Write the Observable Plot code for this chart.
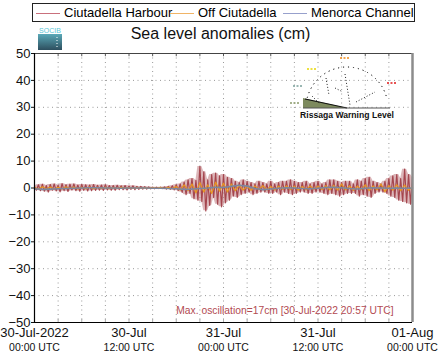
<!DOCTYPE html>
<html><head><meta charset="utf-8">
<script src="https://cdn.jsdelivr.net/npm/d3@7"></script>
<script src="https://cdn.jsdelivr.net/npm/@observablehq/plot@0.6"></script>
<style>
body{margin:0;background:#fff;font-family:"Liberation Sans",Arial,Helvetica,sans-serif;}
#wrap{position:relative;width:441px;height:359px;overflow:hidden;}
#chart{position:absolute;left:0;top:0;}
#legend{position:absolute;left:32px;top:3px;width:381px;height:17px;border:1px solid #222;background:#fff;font-size:13px;line-height:17px;white-space:nowrap;}
#legend span.item{position:absolute;top:0;}
#legend span.sw{display:inline-block;width:24px;height:1px;vertical-align:middle;margin-right:4px;}
#title{position:absolute;left:0;width:441px;text-align:center;top:25px;font-size:16px;color:#111;}
#overlay{position:absolute;left:0;top:0;}
</style></head>
<body><div id="wrap"><div id="chart"></div><div id="legend"></div><div id="title">Sea level anomalies (cm)</div><svg id="overlay" width="441" height="359"></svg></div>
<script>
const seriesNames = ["Ciutadella Harbour", "Off Ciutadella", "Menorca Channel"];
const seriesColors = ["#9e3a42", "#e8961e", "#7c879e"];
const legendColors = ["#c9707c", "#f0b466", "#97a0cc"];
const startTime = "2022-07-30T00:00:00Z";
const endTime = "2022-08-01T00:00:00Z";
const yTicks = [-50,-40,-30,-20,-10,0,10,20,30,40,50];
const xLabelHours = [0,12,24,36,48];
const xLabelTop = ["30-Jul-2022","30-Jul","31-Jul","31-Jul","01-Aug"];
const xLabelBottom = ["00:00 UTC","12:00 UTC","00:00 UTC","12:00 UTC","00:00 UTC"];
const maxText = "Max. oscillation=17cm [30-Jul-2022 20:57 UTC]";
const warningLabel = "Rissaga Warning Level";

// Ciutadella Harbour, every 15 minutes (cm)
const harbour = [
 0.5,-0.8,1.2,-1.0, 1.4,-1.2,0.9,-1.5, 1.3,-0.9,1.5,-1.1, 1.0,-1.4,1.6,-1.0,
 1.2,-1.3,1.4,-0.8, 1.5,-1.0,1.1,-1.2, 1.3,-0.9,1.2,-1.1, 1.1,-1.0,1.3,-0.9,
 1.0,-0.8,1.1,-0.9, 1.2,-0.7,0.9,-0.8, 0.9,-0.8,1.0,-0.6, 0.8,-0.6,0.9,-0.7,
 0.7,-0.5,0.8,-0.6, 0.6,-0.5,0.6,-0.4, 0.5,-0.4,0.4,-0.3, 0.3,-0.3,0.3,-0.2,
 0.3,-0.2,0.4,-0.4, 0.6,-0.5,0.8,-0.7, 1.2,-1.0,1.5,-1.6, 2.2,-2.5,3.0,-2.0,
 3.5,-4.0,2.8,-4.5, 8.0,-5.0,6.0,-8.5, 3.0,-6.5,5.0,-3.5, 5.5,-6.0,4.5,-7.0,
 5.0,-5.5,4.0,-4.5, 3.5,-3.0,2.5,-3.5, 2.0,-2.5,3.0,-2.0, 2.5,-1.5,2.0,-2.5,
 1.5,-2.0,2.5,-1.5, 2.0,-1.5,1.5,-2.0, 2.5,-2.0,1.5,-1.5, 2.0,-2.5,2.5,-1.5,
 2.5,-2.0,3.0,-2.5, 2.5,-2.0,2.0,-1.5, 2.0,-1.5,2.5,-2.0, 1.5,-2.0,2.0,-1.5,
 2.5,-1.5,1.5,-2.0, 2.0,-2.5,3.0,-2.0, 3.0,-2.5,2.5,-3.0, 2.0,-2.5,2.5,-2.0,
 2.5,-2.0,1.5,-2.0, 3.0,-3.0,2.5,-2.5, 3.5,-3.0,4.0,-3.5, 2.5,-2.0,2.0,-1.5,
 1.5,-1.5,2.5,-2.0, 3.5,-3.0,4.5,-3.5, 5.0,-4.5,3.5,-5.0, 7.0,-5.5,5.0,-6.0,
 4.0
];
// Off Ciutadella, every 30 minutes (cm)
const offshore = [
 0.2,-0.4,0.5,-0.3,0.4,-0.5,0.3,-0.4,0.5,-0.3,0.4,-0.4,0.3,-0.3,0.4,-0.3,0.3,-0.2,
 0.3,-0.3,0.2,-0.2,0.3,-0.2,0.2,-0.2,0.2,-0.1,0.1,-0.1,0.1,-0.1,0.2,-0.2,0.3,-0.3,
 0.6,-0.8,1.2,-1.0,1.5,-1.8,2.0,-1.5,1.2,-2.0,2.2,-1.2,1.8,-1.5,1.5,-1.0,
 1.0,-0.8,0.7,-0.9,0.8,-0.6,0.9,-0.7,0.6,-0.8,0.7,-0.5,0.8,-0.6,0.7,-0.8,0.6,-0.7,0.8,-0.5,0.7,-0.6,0.9,-0.7,
 1.0,-0.8,1.5,-0.7,0.8,-0.9,0.7,-0.6,1.2,-1.0,0.8,-0.7,1.5,-1.4,0.9,-0.8,1.2,-1.0,1.1,-0.9,
 0.5
];
// Menorca Channel, hourly (cm)
const channel = [
 -0.3,-0.5,-0.4,-0.3,-0.2,-0.1,0,0.1,0.1,0,0,-0.1,0,0,0,-0.1,-0.1,-0.2,-0.3,-0.5,
 -0.4,-0.2,0.0,0.3,0.2,0.6,1.0,0.7,-0.2,-0.6,-0.4,-0.1,0.1,0,-0.2,-0.3,-0.1,0.2,0.3,0.1,
 -0.2,-0.4,-0.1,0.1,0,-0.1,0,-0.1,0
];

const t0 = new Date(startTime), t1 = new Date(endTime);
const atMinutes = m => new Date(+t0 + m * 60000);
const H = harbour.map((v,i)=>{
  const w = harbour.slice(Math.max(0,i-1), i+2);
  return {t: atMinutes(i*15), v, hi: d3.max(w), lo: d3.min(w)};
});
const O = offshore.map((v,i)=>({t: atMinutes(i*30), v}));
const C = channel.map((v,i)=>({t: atMinutes(i*60), v}));
const gridTimes = d3.utcHour.every(3).range(t0, new Date(+t1 + 1));
const labelTimes = xLabelHours.map(h => atMinutes(h*60));

const font = '"Liberation Sans",Arial,Helvetica,sans-serif';
const plot = Plot.plot({
  width: 441, height: 359,
  marginLeft: 34, marginRight: 29, marginTop: 53, marginBottom: 37,
  style: {fontFamily: font, background: "transparent", overflow: "visible"},
  x: {type: "utc", domain: [t0, t1], label: null},
  y: {domain: [-50, 50], label: null},
  marks: [
    Plot.gridX(gridTimes, {stroke: "#9a9a9a", strokeOpacity: 1, strokeDasharray: "1,3.5", strokeWidth: 1}),
    Plot.gridY(yTicks, {stroke: "#9a9a9a", strokeOpacity: 1, strokeDasharray: "1,3.5", strokeWidth: 1}),
    Plot.axisY(yTicks, {label: null, tickSize: 3, tickPadding: 1, fontSize: 13, fill: "#111", stroke: "#111"}),
    Plot.axisX(labelTimes, {label: null, tickSize: 0, tickPadding: 5, fontSize: 13, fill: "#111", tickFormat: (d,i) => xLabelTop[i]}),
    Plot.axisX(labelTimes, {label: null, tickSize: 0, tickPadding: 21, fontSize: 10.5, fill: "#111", tickFormat: (d,i) => xLabelBottom[i]}),
    Plot.ruleX(gridTimes, {y1: -50, y2: -48.8, stroke: "#aaa"}),
    Plot.ruleX(gridTimes, {y1: 50, y2: 48.8, stroke: "#555"}),
    Plot.areaY(H, {x: "t", y1: "lo", y2: "hi", fill: "#c07a80", fillOpacity: 0.55}),
    Plot.line(H, {x: "t", y: "v", stroke: seriesColors[0], strokeWidth: 1.2, strokeOpacity: 0.9}),
    Plot.line(O, {x: "t", y: "v", stroke: seriesColors[1], strokeWidth: 1.2}),
    Plot.line(C, {x: "t", y: "v", stroke: seriesColors[2], strokeWidth: 1.6}),
    Plot.ruleY([50], {stroke: "#444", strokeWidth: 1.2}),
    Plot.ruleX([t1], {stroke: "#8c8c8c", strokeWidth: 2.5}),
    Plot.ruleX([t0], {stroke: "#000", strokeWidth: 1.2}),
    Plot.ruleY([-50], {stroke: "#000", strokeWidth: 1.2}),
    Plot.text([maxText], {frameAnchor: "bottom-right", dx: -19, dy: -9, fontSize: 10.3, fill: "#b24a52", textAnchor: "end"})
  ]
});
document.getElementById("chart").appendChild(plot);

// legend
const lg = document.getElementById("legend");
const itemLeft = [3, 137, 250];
seriesNames.forEach((n,i)=>{
  const s = document.createElement("span");
  s.className = "item"; s.style.left = itemLeft[i] + "px";
  s.innerHTML = `<span class="sw" style="background:${legendColors[i]}"></span>${n}`;
  lg.appendChild(s);
});

// SOCIB logo and rissaga gauge decoration
const ov = d3.select("#overlay");
const defs = ov.append("defs");
const gr = defs.append("linearGradient").attr("id","lg").attr("x1",0).attr("y1",0).attr("x2",0).attr("y2",1);
gr.append("stop").attr("offset",0).attr("stop-color","#5aa9b8");
gr.append("stop").attr("offset",1).attr("stop-color","#2d4e5e");
ov.append("rect").attr("x",38).attr("y",34).attr("width",24).attr("height",16).attr("fill","url(#lg)");
ov.append("text").attr("x",50).attr("y",33).attr("text-anchor","middle").attr("font-size",7).attr("font-family",font).attr("fill","#5cc6d6").text("SOCIB");
ov.append("line").attr("x1",57).attr("x2",57).attr("y1",37).attr("y2",49).attr("stroke","#fff").attr("stroke-dasharray","1,2");

const g = ov.append("g");
const cx = 347, cy = 108, r = 41;
const arc = d3.arc()({innerRadius: r, outerRadius: r, startAngle: -Math.PI/2 + 0.25, endAngle: Math.PI/2 - 0.25});
g.append("path").attr("d", arc).attr("transform",`translate(${cx},${cy})`).attr("fill","none").attr("stroke","#444").attr("stroke-dasharray","1,4");
g.append("path").attr("d", `M303,98 L303,108 L347,108 Z`).attr("fill","#7d8a5e");
g.append("path").attr("d", `M305,99 L347,108`).attr("stroke","#111").attr("stroke-width",1.2);
g.append("line").attr("x1",303).attr("x2",390).attr("y1",108).attr("y2",108).attr("stroke","#555");
const marks = [[290,103,"#8a9a6a"],[293,86,"#7aa09a"],[307,69,"#e8d800"],[340,58,"#f08a1a"],[387,83,"#e01818"]];
marks.forEach(([x,y,c])=> g.append("line").attr("x1",x).attr("x2",x+10).attr("y1",y).attr("y2",y).attr("stroke",c).attr("stroke-width",1.5).attr("stroke-dasharray","2,1.5"));
[[326,78,329,95],[312,96,320,104],[345,74,350,105],[356,102,375,92],[335,88,343,92]].forEach(([a,b,c2,d])=>
  g.append("line").attr("x1",a).attr("y1",b).attr("x2",c2).attr("y2",d).attr("stroke","#222").attr("stroke-dasharray","1,2"));
g.append("text").attr("x",347).attr("y",118).attr("text-anchor","middle").attr("font-size",8.6).attr("font-weight","bold").attr("font-family",font).attr("fill","#111").text(warningLabel);
</script></body></html>
